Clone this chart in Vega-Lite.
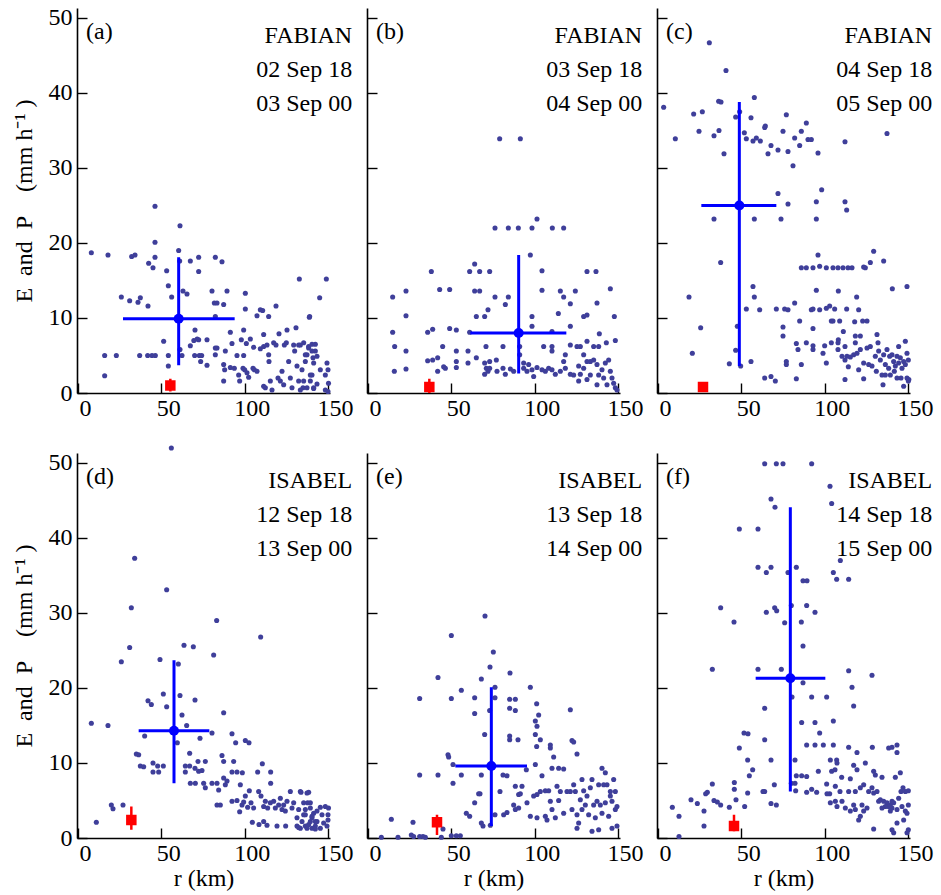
{
"$schema":"https://vega.github.io/schema/vega-lite/v6.json",
"padding":{"left":12,"top":5,"right":5,"bottom":5},
"background":"white",
"bounds":"flush",
"columns":3,
"spacing":{"row":60,"column":37},
"datasets":{
"stats":[
{"p":"a","mr":60.4,"me":9.9,"mx1":27,"mx2":94,"my1":3.7,"my2":18.1,"qr":55.4,"qe":1.0,"qy1":0.2,"qy2":1.9,"tag":"(a)","storm":"FABIAN","d1":"02 Sep 18","d2":"03 Sep 00"},
{"p":"b","mr":90.4,"me":8.0,"mx1":61.4,"mx2":119,"my1":2.6,"my2":18.4,"qr":36.8,"qe":0.8,"qy1":0,"qy2":1.9,"tag":"(b)","storm":"FABIAN","d1":"03 Sep 18","d2":"04 Sep 00"},
{"p":"c","mr":48.8,"me":25.0,"mx1":26,"mx2":71,"my1":3.6,"my2":38.8,"qr":27,"qe":0.8,"qy1":0.5,"qy2":1.1,"tag":"(c)","storm":"FABIAN","d1":"04 Sep 18","d2":"05 Sep 00"},
{"p":"d","mr":57.6,"me":14.3,"mx1":36.4,"mx2":78.8,"my1":7.3,"my2":23.7,"qr":32,"qe":2.4,"qy1":1.1,"qy2":4.2,"tag":"(d)","storm":"ISABEL","d1":"12 Sep 18","d2":"13 Sep 00"},
{"p":"e","mr":74,"me":9.6,"mx1":52.4,"mx2":95.4,"my1":1.6,"my2":20.1,"qr":41.4,"qe":2.1,"qy1":0.4,"qy2":3.1,"tag":"(e)","storm":"ISABEL","d1":"13 Sep 18","d2":"14 Sep 00"},
{"p":"f","mr":79.4,"me":21.3,"mx1":58.6,"mx2":100.4,"my1":6.2,"my2":44.1,"qr":45.6,"qe":1.6,"qy1":0.9,"qy2":3.1,"tag":"(f)","storm":"ISABEL","d1":"14 Sep 18","d2":"15 Sep 00"}
],
"pts":[
{"p":"a","r":8,"e":18.7},{"p":"a","r":18,"e":18.4},{"p":"a","r":32.2,"e":18.2},{"p":"a","r":34.2,"e":18.4},{"p":"a","r":46.2,"e":24.9},{"p":"a","r":46.2,"e":20.1},{"p":"a","r":46.2,"e":18.1},{"p":"a","r":42.4,"e":17.3},{"p":"a","r":45,"e":16.7},{"p":"a","r":61.2,"e":22.3},{"p":"a","r":60.4,"e":19.0},{"p":"a","r":61,"e":17.6},{"p":"a","r":67.4,"e":17.6},{"p":"a","r":72.4,"e":18.1},{"p":"a","r":72.4,"e":16.2},{"p":"a","r":53.2,"e":16.3},{"p":"a","r":54.2,"e":14.3},{"p":"a","r":56.2,"e":12.8},{"p":"a","r":63,"e":13.6},{"p":"a","r":65.4,"e":13.2},{"p":"a","r":82.4,"e":18.1},{"p":"a","r":86.4,"e":17.5},{"p":"a","r":26,"e":12.8},{"p":"a","r":31,"e":12.3},{"p":"a","r":36,"e":12.1},{"p":"a","r":37.4,"e":12.7},{"p":"a","r":42,"e":11.6},{"p":"a","r":80.4,"e":13.6},{"p":"a","r":89.4,"e":13.6},{"p":"a","r":81.8,"e":12},{"p":"a","r":83.4,"e":12},{"p":"a","r":87.4,"e":11.8},{"p":"a","r":82.4,"e":10.2},{"p":"a","r":100.4,"e":13.3},{"p":"a","r":100.4,"e":11.2},{"p":"a","r":109.4,"e":11.1},{"p":"a","r":110.8,"e":11.0},{"p":"a","r":118.8,"e":11.6},{"p":"a","r":107.4,"e":10.3},{"p":"a","r":114.4,"e":10.2},{"p":"a","r":132.8,"e":15.2},{"p":"a","r":138.8,"e":10.1},{"p":"a","r":16,"e":5.0},{"p":"a","r":23,"e":5.0},{"p":"a","r":37,"e":5.0},{"p":"a","r":41.8,"e":5.0},{"p":"a","r":44.4,"e":5.0},{"p":"a","r":46.4,"e":5.0},{"p":"a","r":16,"e":2.3},{"p":"a","r":51.4,"e":6.9},{"p":"a","r":54.2,"e":5.0},{"p":"a","r":54.2,"e":3.6},{"p":"a","r":61.2,"e":5.8},{"p":"a","r":62.4,"e":5.0},{"p":"a","r":67.4,"e":6.3},{"p":"a","r":70.2,"e":8.4},{"p":"a","r":69.5,"e":7.0},{"p":"a","r":71.5,"e":7.2},{"p":"a","r":72.4,"e":7.1},{"p":"a","r":70,"e":5.0},{"p":"a","r":72.8,"e":5.0},{"p":"a","r":74.2,"e":5.0},{"p":"a","r":73.6,"e":4.2},{"p":"a","r":77.4,"e":7.1},{"p":"a","r":77.4,"e":3.7},{"p":"a","r":82.4,"e":6.0},{"p":"a","r":83.4,"e":6.0},{"p":"a","r":82.4,"e":5.1},{"p":"a","r":87.4,"e":3.8},{"p":"a","r":88,"e":3.1},{"p":"a","r":87.4,"e":1.6},{"p":"a","r":88.4,"e":5.6},{"p":"a","r":91.4,"e":8.1},{"p":"a","r":92.4,"e":6.6},{"p":"a","r":91.4,"e":3.4},{"p":"a","r":93.8,"e":3.3},{"p":"a","r":95.4,"e":5.0},{"p":"a","r":96.4,"e":2.4},{"p":"a","r":97,"e":1.6},{"p":"a","r":98,"e":7.1},{"p":"a","r":99,"e":3.3},{"p":"a","r":100,"e":3.1},{"p":"a","r":99.4,"e":5.0},{"p":"a","r":99.4,"e":8.4},{"p":"a","r":101,"e":6.6},{"p":"a","r":101.4,"e":2.7},{"p":"a","r":102.4,"e":2.1},{"p":"a","r":103.4,"e":7.2},{"p":"a","r":105,"e":3.3},{"p":"a","r":105.8,"e":3.1},{"p":"a","r":105.4,"e":6.1},{"p":"a","r":107.4,"e":2.9},{"p":"a","r":109.4,"e":5.9},{"p":"a","r":111.4,"e":6.2},{"p":"a","r":113.4,"e":6.4},{"p":"a","r":111.4,"e":7.8},{"p":"a","r":111.4,"e":0.9},{"p":"a","r":112.4,"e":0.7},{"p":"a","r":114.4,"e":5.1},{"p":"a","r":115.4,"e":1.6},{"p":"a","r":116.4,"e":0.4},{"p":"a","r":114.6,"e":4.2},{"p":"a","r":117.4,"e":6.7},{"p":"a","r":118.8,"e":6.4},{"p":"a","r":120,"e":2.0},{"p":"a","r":121.4,"e":1.6},{"p":"a","r":120.6,"e":7.9},{"p":"a","r":122.4,"e":2.9},{"p":"a","r":123.4,"e":1.1},{"p":"a","r":123.8,"e":6.4},{"p":"a","r":125,"e":6.7},{"p":"a","r":125.4,"e":8.4},{"p":"a","r":126.4,"e":4.2},{"p":"a","r":127.4,"e":2.0},{"p":"a","r":128.4,"e":0.7},{"p":"a","r":129.4,"e":6.4},{"p":"a","r":130,"e":5.6},{"p":"a","r":130.8,"e":8.7},{"p":"a","r":131.4,"e":3.6},{"p":"a","r":132.4,"e":1.6},{"p":"a","r":133.4,"e":6.4},{"p":"a","r":134.4,"e":3.1},{"p":"a","r":135,"e":0.7},{"p":"a","r":136.4,"e":4.2},{"p":"a","r":137.4,"e":5.1},{"p":"a","r":138.4,"e":6.0},{"p":"a","r":140.4,"e":6.5},{"p":"a","r":139.4,"e":1.6},{"p":"a","r":140.4,"e":2.4},{"p":"a","r":141.4,"e":0.7},{"p":"a","r":141,"e":4.7},{"p":"a","r":142.4,"e":5.6},{"p":"a","r":149,"e":15.2},{"p":"a","r":145,"e":12.7},{"p":"a","r":139,"e":10.2},{"p":"a","r":132.4,"e":6.4},{"p":"a","r":135.4,"e":6.7},{"p":"a","r":138.4,"e":6.2},{"p":"a","r":142.4,"e":6.5},{"p":"a","r":140.4,"e":5.6},{"p":"a","r":136.4,"e":5.1},{"p":"a","r":143.4,"e":4.9},{"p":"a","r":141.4,"e":4.0},{"p":"a","r":149.4,"e":4.0},{"p":"a","r":145.4,"e":3.1},{"p":"a","r":150,"e":3.1},{"p":"a","r":139.4,"e":2.4},{"p":"a","r":148.4,"e":2.4},{"p":"a","r":135.4,"e":1.6},{"p":"a","r":143.4,"e":1.2},{"p":"a","r":137.4,"e":0.7},{"p":"a","r":141.4,"e":0.6},{"p":"a","r":148.4,"e":0.4},{"p":"a","r":150.3,"e":1.3},{"p":"a","r":150,"e":0.2},{"p":"a","r":133.4,"e":0.4},
{"p":"b","r":79,"e":33.9},{"p":"b","r":91.4,"e":33.9},{"p":"b","r":101.4,"e":23.2},{"p":"b","r":76.2,"e":22},{"p":"b","r":84.2,"e":22},{"p":"b","r":90.2,"e":22},{"p":"b","r":98.4,"e":22},{"p":"b","r":110.6,"e":22},{"p":"b","r":117.4,"e":22},{"p":"b","r":97.4,"e":18.4},{"p":"b","r":64,"e":17.2},{"p":"b","r":38,"e":16.2},{"p":"b","r":61,"e":16.2},{"p":"b","r":67,"e":16.2},{"p":"b","r":73,"e":16.2},{"p":"b","r":104.4,"e":16.3},{"p":"b","r":131.4,"e":16.2},{"p":"b","r":136.8,"e":16.2},{"p":"b","r":14.8,"e":12.8},{"p":"b","r":22.8,"e":13.6},{"p":"b","r":43,"e":13.8},{"p":"b","r":49,"e":13.8},{"p":"b","r":64,"e":13.6},{"p":"b","r":67,"e":13.6},{"p":"b","r":76.2,"e":12.8},{"p":"b","r":84.2,"e":12.8},{"p":"b","r":82.4,"e":11.8},{"p":"b","r":72,"e":11.1},{"p":"b","r":104.4,"e":13.7},{"p":"b","r":115.4,"e":13.6},{"p":"b","r":117.4,"e":12.8},{"p":"b","r":124.4,"e":13.6},{"p":"b","r":121.4,"e":11.9},{"p":"b","r":145.4,"e":13.9},{"p":"b","r":137.4,"e":12.0},{"p":"b","r":22.8,"e":10.3},{"p":"b","r":65,"e":10.2},{"p":"b","r":70,"e":10.2},{"p":"b","r":98.4,"e":10.2},{"p":"b","r":114.2,"e":10.6},{"p":"b","r":129.4,"e":10.2},{"p":"b","r":131.4,"e":10.4},{"p":"b","r":147.8,"e":10.2},{"p":"b","r":14.8,"e":8.1},{"p":"b","r":35.8,"e":8.1},{"p":"b","r":38.8,"e":8.5},{"p":"b","r":49,"e":8.6},{"p":"b","r":53,"e":8.4},{"p":"b","r":61,"e":8.1},{"p":"b","r":98.4,"e":8.9},{"p":"b","r":110.4,"e":8.2},{"p":"b","r":121.4,"e":8.9},{"p":"b","r":138.8,"e":7.9},{"p":"b","r":16,"e":6.2},{"p":"b","r":22.8,"e":5.6},{"p":"b","r":44.8,"e":6.2},{"p":"b","r":53,"e":5.6},{"p":"b","r":60,"e":5.6},{"p":"b","r":65,"e":4.7},{"p":"b","r":70.8,"e":6.2},{"p":"b","r":81,"e":6.2},{"p":"b","r":91,"e":6.2},{"p":"b","r":91,"e":5.1},{"p":"b","r":105.4,"e":6.2},{"p":"b","r":110.4,"e":6.2},{"p":"b","r":110.4,"e":5.6},{"p":"b","r":121.4,"e":6.4},{"p":"b","r":125.4,"e":6.2},{"p":"b","r":127.4,"e":6.2},{"p":"b","r":131.4,"e":6.9},{"p":"b","r":135.4,"e":6.2},{"p":"b","r":138.4,"e":6.2},{"p":"b","r":143,"e":6.7},{"p":"b","r":148.4,"e":7.0},{"p":"b","r":15.8,"e":2.9},{"p":"b","r":22.8,"e":3.2},{"p":"b","r":35.8,"e":4.3},{"p":"b","r":38.8,"e":4.4},{"p":"b","r":41.8,"e":4.7},{"p":"b","r":41.8,"e":2.9},{"p":"b","r":45.4,"e":3.5},{"p":"b","r":46.4,"e":3.3},{"p":"b","r":53,"e":4.2},{"p":"b","r":53,"e":3.4},{"p":"b","r":60,"e":4.0},{"p":"b","r":70,"e":4.0},{"p":"b","r":73,"e":4.2},{"p":"b","r":71,"e":3.3},{"p":"b","r":72,"e":2.9},{"p":"b","r":70,"e":2.5},{"p":"b","r":77,"e":4.4},{"p":"b","r":73,"e":3.3},{"p":"b","r":77.4,"e":2.9},{"p":"b","r":81,"e":3.3},{"p":"b","r":85.4,"e":3.2},{"p":"b","r":82.4,"e":2.5},{"p":"b","r":87.4,"e":2.9},{"p":"b","r":93.4,"e":4.0},{"p":"b","r":96.4,"e":3.8},{"p":"b","r":93.4,"e":3.3},{"p":"b","r":95.4,"e":2.9},{"p":"b","r":98.4,"e":3.1},{"p":"b","r":99.4,"e":2.2},{"p":"b","r":101.4,"e":3.4},{"p":"b","r":104.4,"e":3.1},{"p":"b","r":106.4,"e":2.9},{"p":"b","r":108.4,"e":3.3},{"p":"b","r":110.4,"e":3.1},{"p":"b","r":112.4,"e":2.5},{"p":"b","r":115.4,"e":2.9},{"p":"b","r":117.4,"e":4.2},{"p":"b","r":118.4,"e":3.3},{"p":"b","r":118.4,"e":5.1},{"p":"b","r":121.4,"e":2.5},{"p":"b","r":123.4,"e":2.4},{"p":"b","r":126.4,"e":1.6},{"p":"b","r":127.4,"e":2.5},{"p":"b","r":129.4,"e":5.1},{"p":"b","r":131.4,"e":4.2},{"p":"b","r":133.4,"e":4.2},{"p":"b","r":135.4,"e":4.4},{"p":"b","r":137.4,"e":3.8},{"p":"b","r":138.4,"e":2.4},{"p":"b","r":140.4,"e":3.1},{"p":"b","r":142.4,"e":4.0},{"p":"b","r":144.4,"e":4.4},{"p":"b","r":145.4,"e":2.9},{"p":"b","r":146.4,"e":2.0},{"p":"b","r":147.4,"e":1.3},{"p":"b","r":148.4,"e":0.7},{"p":"b","r":149.4,"e":0.4},{"p":"b","r":137.4,"e":1.1},{"p":"b","r":131.4,"e":1.8},{"p":"b","r":126.4,"e":3.6},{"p":"b","r":129.4,"e":3.3},{"p":"b","r":133.4,"e":2.4},{"p":"b","r":141.4,"e":2.0},{"p":"b","r":143.4,"e":1.1},
{"p":"c","r":3.4,"e":38.1},{"p":"c","r":10.4,"e":33.9},{"p":"c","r":30.8,"e":46.7},{"p":"c","r":40.8,"e":43.0},{"p":"c","r":21.4,"e":37.2},{"p":"c","r":26.6,"e":37.5},{"p":"c","r":24.6,"e":34.9},{"p":"c","r":36.4,"e":38.9},{"p":"c","r":37.8,"e":38.8},{"p":"c","r":33.6,"e":34.3},{"p":"c","r":36.6,"e":35.0},{"p":"c","r":39.6,"e":31.9},{"p":"c","r":46.6,"e":36.8},{"p":"c","r":49,"e":37.5},{"p":"c","r":57.8,"e":39.4},{"p":"c","r":55.8,"e":36.7},{"p":"c","r":51.8,"e":34.7},{"p":"c","r":53,"e":33.9},{"p":"c","r":57,"e":33.6},{"p":"c","r":59,"e":34.0},{"p":"c","r":61.4,"e":33.6},{"p":"c","r":64,"e":35.4},{"p":"c","r":64.4,"e":35.6},{"p":"c","r":66,"e":31.9},{"p":"c","r":67.8,"e":33.0},{"p":"c","r":72,"e":32.4},{"p":"c","r":75,"e":34.9},{"p":"c","r":77,"e":37.1},{"p":"c","r":78,"e":32.2},{"p":"c","r":81,"e":30.3},{"p":"c","r":82,"e":34.0},{"p":"c","r":85,"e":33.0},{"p":"c","r":86,"e":34.9},{"p":"c","r":89,"e":36.0},{"p":"c","r":90,"e":33.8},{"p":"c","r":92,"e":33.8},{"p":"c","r":96,"e":32.0},{"p":"c","r":112.2,"e":33.5},{"p":"c","r":137.4,"e":34.6},{"p":"c","r":72,"e":26.6},{"p":"c","r":78,"e":25.2},{"p":"c","r":95,"e":25.5},{"p":"c","r":98.2,"e":27.1},{"p":"c","r":112.2,"e":25.5},{"p":"c","r":113.2,"e":24.4},{"p":"c","r":33.6,"e":23.2},{"p":"c","r":57.8,"e":23.2},{"p":"c","r":73.8,"e":23.2},{"p":"c","r":95,"e":23.2},{"p":"c","r":37.6,"e":17.4},{"p":"c","r":96,"e":18.4},{"p":"c","r":129.4,"e":18.9},{"p":"c","r":135.4,"e":17.6},{"p":"c","r":86,"e":16.7},{"p":"c","r":89,"e":16.7},{"p":"c","r":93,"e":16.7},{"p":"c","r":97,"e":16.9},{"p":"c","r":101,"e":16.7},{"p":"c","r":105,"e":16.7},{"p":"c","r":108,"e":16.7},{"p":"c","r":111,"e":16.7},{"p":"c","r":114,"e":16.7},{"p":"c","r":116.4,"e":16.7},{"p":"c","r":123.4,"e":16.8},{"p":"c","r":124.4,"e":16.7},{"p":"c","r":127.4,"e":17.4},{"p":"c","r":57,"e":14.2},{"p":"c","r":140.6,"e":13.9},{"p":"c","r":149.4,"e":14.2},{"p":"c","r":18.6,"e":12.8},{"p":"c","r":57.8,"e":12.8},{"p":"c","r":95,"e":13.7},{"p":"c","r":108.2,"e":13.6},{"p":"c","r":119.2,"e":12.8},{"p":"c","r":53,"e":11.2},{"p":"c","r":61,"e":11.1},{"p":"c","r":71,"e":11.2},{"p":"c","r":76,"e":11.2},{"p":"c","r":78,"e":11.1},{"p":"c","r":82,"e":12.0},{"p":"c","r":92,"e":11.1},{"p":"c","r":93,"e":11.2},{"p":"c","r":97,"e":11.1},{"p":"c","r":101,"e":11.3},{"p":"c","r":103,"e":11.6},{"p":"c","r":106,"e":11.2},{"p":"c","r":113.2,"e":11.2},{"p":"c","r":120.4,"e":11.1},{"p":"c","r":25.6,"e":8.7},{"p":"c","r":47.6,"e":8.9},{"p":"c","r":75,"e":8.8},{"p":"c","r":85,"e":9.6},{"p":"c","r":93,"e":8.6},{"p":"c","r":104,"e":9.6},{"p":"c","r":105,"e":9.6},{"p":"c","r":109,"e":9.6},{"p":"c","r":111.2,"e":8.2},{"p":"c","r":118,"e":9.5},{"p":"c","r":122.8,"e":9.6},{"p":"c","r":125.4,"e":9.6},{"p":"c","r":118.4,"e":7.6},{"p":"c","r":121.4,"e":7.6},{"p":"c","r":75,"e":7.6},{"p":"c","r":131.4,"e":7.8},{"p":"c","r":20.6,"e":5.3},{"p":"c","r":46.6,"e":5.7},{"p":"c","r":42.8,"e":3.9},{"p":"c","r":49.6,"e":3.6},{"p":"c","r":55.8,"e":4.2},{"p":"c","r":64,"e":2.0},{"p":"c","r":67.8,"e":2.2},{"p":"c","r":70.4,"e":1.6},{"p":"c","r":77,"e":4.2},{"p":"c","r":77,"e":3.8},{"p":"c","r":83,"e":6.6},{"p":"c","r":84,"e":5.8},{"p":"c","r":86,"e":3.8},{"p":"c","r":83,"e":1.9},{"p":"c","r":89,"e":6.7},{"p":"c","r":93,"e":6.3},{"p":"c","r":93,"e":5.8},{"p":"c","r":100,"e":6.3},{"p":"c","r":99,"e":5.3},{"p":"c","r":101,"e":4.0},{"p":"c","r":104,"e":6.7},{"p":"c","r":108.2,"e":7.1},{"p":"c","r":108,"e":6.7},{"p":"c","r":108,"e":5.8},{"p":"c","r":112.2,"e":1.8},{"p":"c","r":114.2,"e":3.5},{"p":"c","r":120.4,"e":3.1},{"p":"c","r":123.4,"e":1.9},{"p":"c","r":112.2,"e":6.2},{"p":"c","r":110.4,"e":4.9},{"p":"c","r":112.2,"e":4.4},{"p":"c","r":113.4,"e":4.9},{"p":"c","r":115.4,"e":4.8},{"p":"c","r":117.4,"e":5.1},{"p":"c","r":119.4,"e":5.3},{"p":"c","r":118.4,"e":6.7},{"p":"c","r":121.4,"e":5.8},{"p":"c","r":123.4,"e":4.0},{"p":"c","r":125.4,"e":6.0},{"p":"c","r":127.4,"e":6.2},{"p":"c","r":128.4,"e":3.6},{"p":"c","r":130.4,"e":4.9},{"p":"c","r":132,"e":6.7},{"p":"c","r":132.4,"e":5.6},{"p":"c","r":133.4,"e":4.4},{"p":"c","r":134.4,"e":2.4},{"p":"c","r":135,"e":1.1},{"p":"c","r":135.4,"e":5.1},{"p":"c","r":136.4,"e":3.8},{"p":"c","r":137.4,"e":5.8},{"p":"c","r":138.4,"e":3.3},{"p":"c","r":139.4,"e":2.4},{"p":"c","r":140.4,"e":5.1},{"p":"c","r":141.4,"e":4.2},{"p":"c","r":142.4,"e":3.6},{"p":"c","r":143.4,"e":4.9},{"p":"c","r":144.4,"e":4.0},{"p":"c","r":145.4,"e":4.7},{"p":"c","r":146.4,"e":3.3},{"p":"c","r":147.4,"e":4.2},{"p":"c","r":148.4,"e":3.8},{"p":"c","r":148.4,"e":6.9},{"p":"c","r":149.4,"e":5.3},{"p":"c","r":149.4,"e":2.0},{"p":"c","r":150.2,"e":1.6},{"p":"c","r":147.4,"e":0.9},{"p":"c","r":145.8,"e":2.0},{"p":"c","r":143.4,"e":2.0},{"p":"c","r":150.2,"e":4.4},{"p":"c","r":144.4,"e":6.2},{"p":"c","r":141.8,"e":2.9},{"p":"c","r":139,"e":4.9},{"p":"c","r":131,"e":2.9},{"p":"c","r":126.4,"e":3.8},{"p":"c","r":136.4,"e":2.4},{"p":"c","r":150.5,"e":1.8},
{"p":"d","r":56,"e":52.0},{"p":"d","r":34,"e":37.3},{"p":"d","r":53.2,"e":33.1},{"p":"d","r":32,"e":30.7},{"p":"d","r":83.2,"e":29.0},{"p":"d","r":109.6,"e":26.8},{"p":"d","r":31,"e":25.4},{"p":"d","r":63.6,"e":25.7},{"p":"d","r":69.2,"e":25.5},{"p":"d","r":26,"e":23.5},{"p":"d","r":49.2,"e":23.8},{"p":"d","r":60.2,"e":23.2},{"p":"d","r":81.4,"e":24.4},{"p":"d","r":51.2,"e":19.2},{"p":"d","r":61.2,"e":19.0},{"p":"d","r":70.2,"e":18.4},{"p":"d","r":42,"e":18.3},{"p":"d","r":44,"e":17.8},{"p":"d","r":53.2,"e":17.5},{"p":"d","r":62.4,"e":16.4},{"p":"d","r":87.4,"e":16.7},{"p":"d","r":65.2,"e":15.0},{"p":"d","r":8,"e":15.3},{"p":"d","r":18,"e":15.0},{"p":"d","r":40,"e":13.6},{"p":"d","r":73.2,"e":13.3},{"p":"d","r":80.4,"e":14.0},{"p":"d","r":92.4,"e":13.9},{"p":"d","r":94.6,"e":12.7},{"p":"d","r":100.4,"e":13.0},{"p":"d","r":102.6,"e":12.7},{"p":"d","r":59.6,"e":12.7},{"p":"d","r":35,"e":11.2},{"p":"d","r":36.4,"e":11.1},{"p":"d","r":67,"e":11.3},{"p":"d","r":86.4,"e":11.0},{"p":"d","r":110.6,"e":9.9},{"p":"d","r":87.4,"e":10.2},{"p":"d","r":37.4,"e":9.6},{"p":"d","r":39.4,"e":9.5},{"p":"d","r":45,"e":10.0},{"p":"d","r":47.8,"e":9.6},{"p":"d","r":51.2,"e":9.6},{"p":"d","r":64.4,"e":9.6},{"p":"d","r":67,"e":9.6},{"p":"d","r":72,"e":10.2},{"p":"d","r":76.4,"e":10.2},{"p":"d","r":70.2,"e":9.3},{"p":"d","r":72.4,"e":8.9},{"p":"d","r":74.4,"e":9.0},{"p":"d","r":45,"e":8.8},{"p":"d","r":48.4,"e":8.8},{"p":"d","r":64.4,"e":8.8},{"p":"d","r":93.4,"e":10.2},{"p":"d","r":92.4,"e":8.8},{"p":"d","r":95.4,"e":8.8},{"p":"d","r":98.6,"e":8.7},{"p":"d","r":107.8,"e":8.8},{"p":"d","r":115.6,"e":8.8},{"p":"d","r":115.6,"e":7.3},{"p":"d","r":67.4,"e":7.3},{"p":"d","r":70.4,"e":7.3},{"p":"d","r":75.4,"e":7.3},{"p":"d","r":80.4,"e":7.3},{"p":"d","r":83.4,"e":7.3},{"p":"d","r":76.4,"e":6.7},{"p":"d","r":84.4,"e":6.4},{"p":"d","r":87.4,"e":8.0},{"p":"d","r":88.4,"e":7.1},{"p":"d","r":89.4,"e":7.6},{"p":"d","r":97.4,"e":7.1},{"p":"d","r":83.4,"e":4.4},{"p":"d","r":85.4,"e":4.4},{"p":"d","r":92.4,"e":4.9},{"p":"d","r":97,"e":3.5},{"p":"d","r":11,"e":2.1},{"p":"d","r":20,"e":4.4},{"p":"d","r":21,"e":3.9},{"p":"d","r":27,"e":4.4},{"p":"d","r":95.4,"e":5.0},{"p":"d","r":98.4,"e":4.4},{"p":"d","r":99.4,"e":4.8},{"p":"d","r":100.4,"e":5.6},{"p":"d","r":101.8,"e":4.1},{"p":"d","r":103.8,"e":4.7},{"p":"d","r":105.4,"e":4.0},{"p":"d","r":102.8,"e":6.3},{"p":"d","r":104.6,"e":2.1},{"p":"d","r":108.6,"e":1.8},{"p":"d","r":111.4,"e":2.2},{"p":"d","r":113.4,"e":1.7},{"p":"d","r":119.4,"e":1.6},{"p":"d","r":124.6,"e":1.6},{"p":"d","r":108.4,"e":6.2},{"p":"d","r":109.8,"e":5.6},{"p":"d","r":111.4,"e":4.2},{"p":"d","r":112.4,"e":4.9},{"p":"d","r":113.8,"e":4.0},{"p":"d","r":115.4,"e":4.7},{"p":"d","r":117.4,"e":4.9},{"p":"d","r":118.4,"e":4.0},{"p":"d","r":120.4,"e":4.4},{"p":"d","r":121.4,"e":5.3},{"p":"d","r":122.4,"e":3.8},{"p":"d","r":123.4,"e":4.4},{"p":"d","r":124.4,"e":3.6},{"p":"d","r":125.4,"e":4.9},{"p":"d","r":127.4,"e":6.2},{"p":"d","r":128.4,"e":4.0},{"p":"d","r":129.4,"e":4.7},{"p":"d","r":131.4,"e":2.7},{"p":"d","r":132.4,"e":3.8},{"p":"d","r":133.8,"e":6.1},{"p":"d","r":135.4,"e":3.1},{"p":"d","r":136.4,"e":3.8},{"p":"d","r":137.4,"e":6.0},{"p":"d","r":137.8,"e":4.7},{"p":"d","r":139.4,"e":4.0},{"p":"d","r":140.4,"e":2.7},{"p":"d","r":141.4,"e":3.3},{"p":"d","r":142.4,"e":2.2},{"p":"d","r":131.4,"e":1.6},{"p":"d","r":133.4,"e":1.3},{"p":"d","r":136.4,"e":1.6},{"p":"d","r":138.4,"e":1.8},{"p":"d","r":140.4,"e":1.3},{"p":"d","r":142.4,"e":1.6},{"p":"d","r":133.4,"e":6.2},{"p":"d","r":138.4,"e":6.1},{"p":"d","r":135.4,"e":4.7},{"p":"d","r":139.4,"e":4.7},{"p":"d","r":145.4,"e":4.1},{"p":"d","r":148.4,"e":4.2},{"p":"d","r":150.3,"e":4.0},{"p":"d","r":143.4,"e":3.6},{"p":"d","r":136.4,"e":3.1},{"p":"d","r":140.4,"e":2.9},{"p":"d","r":146.4,"e":3.1},{"p":"d","r":150,"e":3.1},{"p":"d","r":134.4,"e":2.2},{"p":"d","r":139.4,"e":2.2},{"p":"d","r":143.4,"e":2.2},{"p":"d","r":147.4,"e":2.0},{"p":"d","r":150,"e":2.4},{"p":"d","r":132.4,"e":1.4},{"p":"d","r":137.4,"e":1.3},{"p":"d","r":142.4,"e":1.2},{"p":"d","r":145.4,"e":1.3},{"p":"d","r":149.4,"e":1.6},
{"p":"e","r":70.2,"e":29.6},{"p":"e","r":50,"e":27.0},{"p":"e","r":75.2,"e":24.8},{"p":"e","r":73.2,"e":22.8},{"p":"e","r":85.2,"e":22.0},{"p":"e","r":42,"e":21.4},{"p":"e","r":68,"e":21.2},{"p":"e","r":76.2,"e":20.1},{"p":"e","r":97.4,"e":20.1},{"p":"e","r":56,"e":19.7},{"p":"e","r":31,"e":18.6},{"p":"e","r":50,"e":18.6},{"p":"e","r":64,"e":18.7},{"p":"e","r":76.2,"e":18.7},{"p":"e","r":85,"e":18.5},{"p":"e","r":88.4,"e":18.5},{"p":"e","r":101.2,"e":17.9},{"p":"e","r":85,"e":17.3},{"p":"e","r":88.4,"e":17.0},{"p":"e","r":73,"e":17.0},{"p":"e","r":121.4,"e":17.1},{"p":"e","r":64,"e":16.6},{"p":"e","r":102.4,"e":16.4},{"p":"e","r":100.4,"e":15.6},{"p":"e","r":101.4,"e":14.9},{"p":"e","r":70,"e":13.8},{"p":"e","r":100.4,"e":13.8},{"p":"e","r":85,"e":13.6},{"p":"e","r":85,"e":13.1},{"p":"e","r":90,"e":13.1},{"p":"e","r":103.4,"e":13.1},{"p":"e","r":101.2,"e":12.2},{"p":"e","r":109.4,"e":12.4},{"p":"e","r":109.4,"e":12.0},{"p":"e","r":122.4,"e":13.0},{"p":"e","r":123.4,"e":12.8},{"p":"e","r":125.4,"e":11.2},{"p":"e","r":111.4,"e":10.8},{"p":"e","r":48,"e":11.1},{"p":"e","r":48.4,"e":10.8},{"p":"e","r":51,"e":9.8},{"p":"e","r":31,"e":8.4},{"p":"e","r":42,"e":8.4},{"p":"e","r":56,"e":8.4},{"p":"e","r":68,"e":8.4},{"p":"e","r":81,"e":8.4},{"p":"e","r":83.4,"e":8.3},{"p":"e","r":95,"e":9.1},{"p":"e","r":100.4,"e":9.8},{"p":"e","r":104.4,"e":8.3},{"p":"e","r":110.4,"e":9.3},{"p":"e","r":114.4,"e":9.3},{"p":"e","r":117.4,"e":9.2},{"p":"e","r":140.4,"e":9.3},{"p":"e","r":142.4,"e":8.7},{"p":"e","r":51,"e":7.3},{"p":"e","r":79.2,"e":6.2},{"p":"e","r":66.4,"e":5.9},{"p":"e","r":67.2,"e":5.9},{"p":"e","r":64,"e":4.7},{"p":"e","r":59,"e":3.3},{"p":"e","r":61,"e":2.9},{"p":"e","r":68,"e":2.0},{"p":"e","r":69,"e":1.6},{"p":"e","r":76.2,"e":3.1},{"p":"e","r":81.4,"e":3.1},{"p":"e","r":83.4,"e":3.4},{"p":"e","r":87.4,"e":4.4},{"p":"e","r":88.4,"e":3.8},{"p":"e","r":90.4,"e":4.0},{"p":"e","r":88.4,"e":6.9},{"p":"e","r":92.4,"e":6.9},{"p":"e","r":90.4,"e":5.8},{"p":"e","r":91.4,"e":5.9},{"p":"e","r":95.4,"e":4.7},{"p":"e","r":97.4,"e":2.9},{"p":"e","r":99.4,"e":5.6},{"p":"e","r":101.4,"e":5.8},{"p":"e","r":101.4,"e":2.7},{"p":"e","r":103.4,"e":6.2},{"p":"e","r":106.4,"e":2.9},{"p":"e","r":106.4,"e":6.3},{"p":"e","r":107.4,"e":2.4},{"p":"e","r":108.4,"e":6.3},{"p":"e","r":109.4,"e":4.9},{"p":"e","r":110.4,"e":3.8},{"p":"e","r":112.4,"e":2.7},{"p":"e","r":113.4,"e":6.9},{"p":"e","r":114.4,"e":5.0},{"p":"e","r":115.4,"e":6.2},{"p":"e","r":117.4,"e":3.3},{"p":"e","r":119.4,"e":6.2},{"p":"e","r":121.4,"e":6.2},{"p":"e","r":122.4,"e":3.8},{"p":"e","r":123.4,"e":7.1},{"p":"e","r":124.4,"e":6.2},{"p":"e","r":125.4,"e":3.1},{"p":"e","r":125.4,"e":1.3},{"p":"e","r":126.4,"e":2.0},{"p":"e","r":127.4,"e":5.1},{"p":"e","r":128.4,"e":7.8},{"p":"e","r":128.4,"e":3.8},{"p":"e","r":129.4,"e":6.3},{"p":"e","r":130.4,"e":4.4},{"p":"e","r":131.4,"e":5.6},{"p":"e","r":132.4,"e":3.1},{"p":"e","r":133.4,"e":6.7},{"p":"e","r":134.4,"e":7.8},{"p":"e","r":134.4,"e":0.9},{"p":"e","r":135.4,"e":4.4},{"p":"e","r":136.4,"e":2.7},{"p":"e","r":137.4,"e":4.9},{"p":"e","r":138.4,"e":7.1},{"p":"e","r":138.4,"e":1.1},{"p":"e","r":139.4,"e":4.4},{"p":"e","r":140.4,"e":3.3},{"p":"e","r":141.4,"e":7.1},{"p":"e","r":142.4,"e":4.7},{"p":"e","r":143.4,"e":7.1},{"p":"e","r":144.4,"e":2.9},{"p":"e","r":145.4,"e":6.2},{"p":"e","r":145.4,"e":5.6},{"p":"e","r":146.4,"e":4.9},{"p":"e","r":146.4,"e":1.3},{"p":"e","r":147.4,"e":7.8},{"p":"e","r":148.4,"e":3.8},{"p":"e","r":148.4,"e":6.2},{"p":"e","r":149.4,"e":1.6},{"p":"e","r":149.4,"e":4.2},{"p":"e","r":14,"e":2.5},{"p":"e","r":27,"e":2.1},{"p":"e","r":8,"e":0.1},{"p":"e","r":18,"e":0.1},{"p":"e","r":26,"e":0.4},{"p":"e","r":27.4,"e":0.2},{"p":"e","r":31,"e":0.2},{"p":"e","r":33,"e":0.2},{"p":"e","r":34.4,"e":0.1},{"p":"e","r":45,"e":1.2},{"p":"e","r":44,"e":0.1},{"p":"e","r":50,"e":0.3},{"p":"e","r":53,"e":0.3},{"p":"e","r":55.4,"e":0.3},{"p":"e","r":73.4,"e":1.7},
{"p":"f","r":64,"e":49.9},{"p":"f","r":71,"e":49.9},{"p":"f","r":75,"e":49.9},{"p":"f","r":92.2,"e":49.9},{"p":"f","r":103.2,"e":46.9},{"p":"f","r":67.8,"e":45.2},{"p":"f","r":70.2,"e":44.1},{"p":"f","r":104.2,"e":44.6},{"p":"f","r":48.8,"e":41.2},{"p":"f","r":60,"e":41.2},{"p":"f","r":109.4,"e":37.0},{"p":"f","r":60,"e":36.1},{"p":"f","r":65,"e":35.4},{"p":"f","r":67.8,"e":36.1},{"p":"f","r":78,"e":35.4},{"p":"f","r":83,"e":36.1},{"p":"f","r":87,"e":34.3},{"p":"f","r":89.4,"e":34.3},{"p":"f","r":105.2,"e":35.4},{"p":"f","r":107.2,"e":34.5},{"p":"f","r":114.4,"e":34.5},{"p":"f","r":37.6,"e":30.7},{"p":"f","r":45.6,"e":28.8},{"p":"f","r":65,"e":30.1},{"p":"f","r":70,"e":30.7},{"p":"f","r":71.2,"e":30.3},{"p":"f","r":80,"e":31.0},{"p":"f","r":89.2,"e":31.0},{"p":"f","r":94.2,"e":30.1},{"p":"f","r":76,"e":28.7},{"p":"f","r":86,"e":28.8},{"p":"f","r":87,"e":25.6},{"p":"f","r":32.6,"e":22.5},{"p":"f","r":60,"e":22.5},{"p":"f","r":74,"e":22.5},{"p":"f","r":114.4,"e":22.3},{"p":"f","r":128.4,"e":21.7},{"p":"f","r":87,"e":20.7},{"p":"f","r":116.4,"e":20.1},{"p":"f","r":80.4,"e":18.8},{"p":"f","r":92.2,"e":18.8},{"p":"f","r":101.2,"e":18.8},{"p":"f","r":64,"e":17.3},{"p":"f","r":117.4,"e":17.6},{"p":"f","r":86.2,"e":15.4},{"p":"f","r":94.2,"e":15.4},{"p":"f","r":105.2,"e":15.6},{"p":"f","r":51.6,"e":14.0},{"p":"f","r":54,"e":13.9},{"p":"f","r":97,"e":14.0},{"p":"f","r":64,"e":13.1},{"p":"f","r":48.8,"e":12.0},{"p":"f","r":89.2,"e":12.4},{"p":"f","r":94.2,"e":12.4},{"p":"f","r":99.2,"e":12.4},{"p":"f","r":105.2,"e":12.4},{"p":"f","r":114.4,"e":12.1},{"p":"f","r":119.4,"e":11.4},{"p":"f","r":128.6,"e":12.1},{"p":"f","r":138.4,"e":12.0},{"p":"f","r":140.4,"e":12.1},{"p":"f","r":143.4,"e":12.4},{"p":"f","r":143.4,"e":11.4},{"p":"f","r":53.8,"e":10.4},{"p":"f","r":67.8,"e":10.4},{"p":"f","r":82.2,"e":10.4},{"p":"f","r":103.4,"e":10.4},{"p":"f","r":107.2,"e":10.4},{"p":"f","r":107.4,"e":10.0},{"p":"f","r":117.4,"e":9.7},{"p":"f","r":124.4,"e":10.0},{"p":"f","r":56.8,"e":9.1},{"p":"f","r":54.8,"e":8.3},{"p":"f","r":83,"e":8.3},{"p":"f","r":86.2,"e":8.3},{"p":"f","r":89.2,"e":8.2},{"p":"f","r":96.2,"e":8.9},{"p":"f","r":104.2,"e":8.9},{"p":"f","r":106.2,"e":9.1},{"p":"f","r":110.2,"e":8.1},{"p":"f","r":115.4,"e":7.9},{"p":"f","r":119.4,"e":9.1},{"p":"f","r":129.4,"e":8.9},{"p":"f","r":130.4,"e":8.4},{"p":"f","r":134.4,"e":8.1},{"p":"f","r":142.4,"e":8.1},{"p":"f","r":145.4,"e":8.7},{"p":"f","r":32.6,"e":7.2},{"p":"f","r":45.8,"e":7.4},{"p":"f","r":45.8,"e":6.5},{"p":"f","r":69.8,"e":7.1},{"p":"f","r":80,"e":7.3},{"p":"f","r":82.2,"e":7.3},{"p":"f","r":101.2,"e":7.2},{"p":"f","r":53.8,"e":6.0},{"p":"f","r":64,"e":6.2},{"p":"f","r":82.6,"e":6.3},{"p":"f","r":89.2,"e":6.1},{"p":"f","r":92.2,"e":6.5},{"p":"f","r":95.2,"e":6.1},{"p":"f","r":103,"e":5.9},{"p":"f","r":106.4,"e":6.9},{"p":"f","r":109.2,"e":6.2},{"p":"f","r":114.4,"e":6.2},{"p":"f","r":118.4,"e":6.2},{"p":"f","r":121.4,"e":6.7},{"p":"f","r":123.4,"e":7.1},{"p":"f","r":126.4,"e":6.2},{"p":"f","r":128.4,"e":6.7},{"p":"f","r":129.4,"e":6.0},{"p":"f","r":131.4,"e":6.2},{"p":"f","r":133.4,"e":5.1},{"p":"f","r":135.4,"e":4.9},{"p":"f","r":137.4,"e":4.7},{"p":"f","r":139.4,"e":4.4},{"p":"f","r":140.4,"e":4.0},{"p":"f","r":141.4,"e":4.7},{"p":"f","r":143.4,"e":3.8},{"p":"f","r":144.4,"e":5.3},{"p":"f","r":145.8,"e":6.2},{"p":"f","r":147,"e":6.7},{"p":"f","r":148.4,"e":6.2},{"p":"f","r":150.2,"e":6.3},{"p":"f","r":150.2,"e":4.4},{"p":"f","r":148.4,"e":3.6},{"p":"f","r":146.4,"e":4.2},{"p":"f","r":147.4,"e":2.4},{"p":"f","r":149.4,"e":3.3},{"p":"f","r":150.2,"e":1.1},{"p":"f","r":149.4,"e":0.7},{"p":"f","r":143.4,"e":2.0},{"p":"f","r":141.4,"e":0.7},{"p":"f","r":140.4,"e":1.1},{"p":"f","r":140.4,"e":4.9},{"p":"f","r":139.4,"e":3.6},{"p":"f","r":138.4,"e":4.2},{"p":"f","r":136.4,"e":4.2},{"p":"f","r":134.4,"e":4.0},{"p":"f","r":132.4,"e":4.9},{"p":"f","r":129.4,"e":1.2},{"p":"f","r":125.4,"e":4.0},{"p":"f","r":123.4,"e":3.6},{"p":"f","r":122.4,"e":4.4},{"p":"f","r":121.4,"e":2.9},{"p":"f","r":120.4,"e":2.4},{"p":"f","r":118.4,"e":3.8},{"p":"f","r":117.4,"e":4.4},{"p":"f","r":115.4,"e":3.6},{"p":"f","r":112.4,"e":4.0},{"p":"f","r":110.4,"e":4.9},{"p":"f","r":107.4,"e":4.2},{"p":"f","r":106.4,"e":4.9},{"p":"f","r":103.4,"e":4.7},{"p":"f","r":101.4,"e":5.9},{"p":"f","r":8.6,"e":4.1},{"p":"f","r":12.6,"e":2.9},{"p":"f","r":12.6,"e":0.2},{"p":"f","r":19.8,"e":5.1},{"p":"f","r":23.6,"e":4.6},{"p":"f","r":27.6,"e":3.6},{"p":"f","r":27.6,"e":1.6},{"p":"f","r":28.6,"e":5.9},{"p":"f","r":29.6,"e":6.1},{"p":"f","r":33.6,"e":5.0},{"p":"f","r":35.6,"e":4.8},{"p":"f","r":37.6,"e":4.4},{"p":"f","r":42.8,"e":4.1},{"p":"f","r":46.8,"e":5.1},{"p":"f","r":52,"e":4.2},{"p":"f","r":63,"e":6.2},{"p":"f","r":67.8,"e":4.6},{"p":"f","r":71,"e":4.4}
]
},
"concat":[
{"width":253,"height":385,"resolve":{"axis":{"x":"independent","y":"independent"}},"layer":[
{"data":{"name":"pts"},"transform":[{"filter":"datum.p==='a'"}],"mark":{"type":"circle","size":26,"color":"#3f3f9a","opacity":1,"clip":false},"encoding":{"x":{"field":"r","type":"quantitative","scale":{"domain":[-0.6,151.2],"nice":false,"zero":false},"axis":{"orient":"bottom","values":[0,50,100,150],"tickSize":-10,"labelPadding":13,"labelOffset":7,"labelFlush":false,"labelOverlap":false,"labelFont":"Liberation Serif","labelFontSize":24,"title":null}},"y":{"field":"e","type":"quantitative","scale":{"domain":[0,51.33],"nice":false,"zero":false},"axis":{"orient":"left","values":[0,10,20,30,40,50],"tickSize":-10,"labelPadding":15,"labelFlush":false,"labelOverlap":false,"labelFont":"Liberation Serif","labelFontSize":24,"title":"E\u00a0\u00a0and\u00a0\u00a0P\u00a0\u00a0\u00a0\u00a0(mm h⁻¹\u00a0)","titleFont":"Liberation Serif","titleFontSize":24,"titleFontWeight":"normal","titlePadding":12}}}},
{"data":{"name":"stats"},"transform":[{"filter":"datum.p==='a'"}],"layer":[
{"mark":{"type":"rule","color":"#0000ff","strokeWidth":3,"clip":false},"encoding":{"x":{"field":"mx1","type":"quantitative","scale":{"domain":[-0.6,151.2],"nice":false,"zero":false},"axis":{"orient":"bottom","values":[10,20,30,40,60,70,80,90,110,120,130,140],"tickSize":-5,"labels":false,"domain":false,"title":null}},"x2":{"field":"mx2"},"y":{"field":"me","type":"quantitative","scale":{"domain":[0,51.33],"nice":false,"zero":false},"axis":{"orient":"left","values":[5,15,25,35,45],"tickSize":-5,"labels":false,"domain":false,"title":null}}}},
{"mark":{"type":"rule","color":"#0000ff","strokeWidth":3,"clip":false},"encoding":{"x":{"field":"mr","type":"quantitative","scale":{"domain":[-0.6,151.2],"nice":false,"zero":false},"axis":null},"y":{"field":"my1","type":"quantitative","scale":{"domain":[0,51.33],"nice":false,"zero":false},"axis":null},"y2":{"field":"my2"}}},
{"mark":{"type":"circle","size":100,"color":"#0000ff","opacity":1,"clip":false},"encoding":{"x":{"field":"mr","type":"quantitative","scale":{"domain":[-0.6,151.2],"nice":false,"zero":false},"axis":null},"y":{"field":"me","type":"quantitative","scale":{"domain":[0,51.33],"nice":false,"zero":false},"axis":null}}},
{"mark":{"type":"rule","color":"#ff0000","strokeWidth":2.5,"clip":false},"encoding":{"x":{"field":"qr","type":"quantitative","scale":{"domain":[-0.6,151.2],"nice":false,"zero":false},"axis":null},"y":{"field":"qy1","type":"quantitative","scale":{"domain":[0,51.33],"nice":false,"zero":false},"axis":null},"y2":{"field":"qy2"}}},
{"mark":{"type":"square","size":110,"color":"#ff0000","opacity":1,"clip":false},"encoding":{"x":{"field":"qr","type":"quantitative","scale":{"domain":[-0.6,151.2],"nice":false,"zero":false},"axis":null},"y":{"field":"qe","type":"quantitative","scale":{"domain":[0,51.33],"nice":false,"zero":false},"axis":null}}},
{"mark":{"type":"text","align":"left","baseline":"middle","fontSize":24,"font":"Liberation Serif","color":"#000","clip":false},"encoding":{"x":{"datum":4.8,"type":"quantitative","scale":{"domain":[-0.6,151.2],"nice":false,"zero":false},"axis":null},"y":{"datum":48.1,"type":"quantitative","scale":{"domain":[0,51.33],"nice":false,"zero":false},"axis":null},"text":{"field":"tag"}}},
{"mark":{"type":"text","align":"right","baseline":"middle","fontSize":24,"font":"Liberation Serif","color":"#000","clip":false},"encoding":{"x":{"datum":164.5,"type":"quantitative","scale":{"domain":[-0.6,151.2],"nice":false,"zero":false},"axis":null},"y":{"datum":47.6,"type":"quantitative","scale":{"domain":[0,51.33],"nice":false,"zero":false},"axis":null},"text":{"field":"storm"}}},
{"mark":{"type":"text","align":"right","baseline":"middle","fontSize":24,"font":"Liberation Serif","color":"#000","clip":false},"encoding":{"x":{"datum":164.5,"type":"quantitative","scale":{"domain":[-0.6,151.2],"nice":false,"zero":false},"axis":null},"y":{"datum":43.1,"type":"quantitative","scale":{"domain":[0,51.33],"nice":false,"zero":false},"axis":null},"text":{"field":"d1"}}},
{"mark":{"type":"text","align":"right","baseline":"middle","fontSize":24,"font":"Liberation Serif","color":"#000","clip":false},"encoding":{"x":{"datum":164.5,"type":"quantitative","scale":{"domain":[-0.6,151.2],"nice":false,"zero":false},"axis":null},"y":{"datum":38.5,"type":"quantitative","scale":{"domain":[0,51.33],"nice":false,"zero":false},"axis":null},"text":{"field":"d2"}}}
]}
]},
{"width":253,"height":385,"resolve":{"axis":{"x":"independent","y":"independent"}},"layer":[
{"data":{"name":"pts"},"transform":[{"filter":"datum.p==='b'"}],"mark":{"type":"circle","size":26,"color":"#3f3f9a","opacity":1,"clip":false},"encoding":{"x":{"field":"r","type":"quantitative","scale":{"domain":[-0.6,151.2],"nice":false,"zero":false},"axis":{"orient":"bottom","values":[0,50,100,150],"tickSize":-10,"labelPadding":13,"labelOffset":7,"labelFlush":false,"labelOverlap":false,"labelFont":"Liberation Serif","labelFontSize":24,"title":null}},"y":{"field":"e","type":"quantitative","scale":{"domain":[0,51.33],"nice":false,"zero":false},"axis":{"orient":"left","values":[0,10,20,30,40,50],"tickSize":-10,"labels":false,"title":null}}}},
{"data":{"name":"stats"},"transform":[{"filter":"datum.p==='b'"}],"layer":[
{"mark":{"type":"rule","color":"#0000ff","strokeWidth":3,"clip":false},"encoding":{"x":{"field":"mx1","type":"quantitative","scale":{"domain":[-0.6,151.2],"nice":false,"zero":false},"axis":{"orient":"bottom","values":[10,20,30,40,60,70,80,90,110,120,130,140],"tickSize":-5,"labels":false,"domain":false,"title":null}},"x2":{"field":"mx2"},"y":{"field":"me","type":"quantitative","scale":{"domain":[0,51.33],"nice":false,"zero":false},"axis":{"orient":"left","values":[5,15,25,35,45],"tickSize":-5,"labels":false,"domain":false,"title":null}}}},
{"mark":{"type":"rule","color":"#0000ff","strokeWidth":3,"clip":false},"encoding":{"x":{"field":"mr","type":"quantitative","scale":{"domain":[-0.6,151.2],"nice":false,"zero":false},"axis":null},"y":{"field":"my1","type":"quantitative","scale":{"domain":[0,51.33],"nice":false,"zero":false},"axis":null},"y2":{"field":"my2"}}},
{"mark":{"type":"circle","size":100,"color":"#0000ff","opacity":1,"clip":false},"encoding":{"x":{"field":"mr","type":"quantitative","scale":{"domain":[-0.6,151.2],"nice":false,"zero":false},"axis":null},"y":{"field":"me","type":"quantitative","scale":{"domain":[0,51.33],"nice":false,"zero":false},"axis":null}}},
{"mark":{"type":"rule","color":"#ff0000","strokeWidth":2.5,"clip":false},"encoding":{"x":{"field":"qr","type":"quantitative","scale":{"domain":[-0.6,151.2],"nice":false,"zero":false},"axis":null},"y":{"field":"qy1","type":"quantitative","scale":{"domain":[0,51.33],"nice":false,"zero":false},"axis":null},"y2":{"field":"qy2"}}},
{"mark":{"type":"square","size":110,"color":"#ff0000","opacity":1,"clip":false},"encoding":{"x":{"field":"qr","type":"quantitative","scale":{"domain":[-0.6,151.2],"nice":false,"zero":false},"axis":null},"y":{"field":"qe","type":"quantitative","scale":{"domain":[0,51.33],"nice":false,"zero":false},"axis":null}}},
{"mark":{"type":"text","align":"left","baseline":"middle","fontSize":24,"font":"Liberation Serif","color":"#000","clip":false},"encoding":{"x":{"datum":4.8,"type":"quantitative","scale":{"domain":[-0.6,151.2],"nice":false,"zero":false},"axis":null},"y":{"datum":48.1,"type":"quantitative","scale":{"domain":[0,51.33],"nice":false,"zero":false},"axis":null},"text":{"field":"tag"}}},
{"mark":{"type":"text","align":"right","baseline":"middle","fontSize":24,"font":"Liberation Serif","color":"#000","clip":false},"encoding":{"x":{"datum":164.5,"type":"quantitative","scale":{"domain":[-0.6,151.2],"nice":false,"zero":false},"axis":null},"y":{"datum":47.6,"type":"quantitative","scale":{"domain":[0,51.33],"nice":false,"zero":false},"axis":null},"text":{"field":"storm"}}},
{"mark":{"type":"text","align":"right","baseline":"middle","fontSize":24,"font":"Liberation Serif","color":"#000","clip":false},"encoding":{"x":{"datum":164.5,"type":"quantitative","scale":{"domain":[-0.6,151.2],"nice":false,"zero":false},"axis":null},"y":{"datum":43.1,"type":"quantitative","scale":{"domain":[0,51.33],"nice":false,"zero":false},"axis":null},"text":{"field":"d1"}}},
{"mark":{"type":"text","align":"right","baseline":"middle","fontSize":24,"font":"Liberation Serif","color":"#000","clip":false},"encoding":{"x":{"datum":164.5,"type":"quantitative","scale":{"domain":[-0.6,151.2],"nice":false,"zero":false},"axis":null},"y":{"datum":38.5,"type":"quantitative","scale":{"domain":[0,51.33],"nice":false,"zero":false},"axis":null},"text":{"field":"d2"}}}
]}
]},
{"width":253,"height":385,"resolve":{"axis":{"x":"independent","y":"independent"}},"layer":[
{"data":{"name":"pts"},"transform":[{"filter":"datum.p==='c'"}],"mark":{"type":"circle","size":26,"color":"#3f3f9a","opacity":1,"clip":false},"encoding":{"x":{"field":"r","type":"quantitative","scale":{"domain":[-0.6,151.2],"nice":false,"zero":false},"axis":{"orient":"bottom","values":[0,50,100,150],"tickSize":-10,"labelPadding":13,"labelOffset":7,"labelFlush":false,"labelOverlap":false,"labelFont":"Liberation Serif","labelFontSize":24,"title":null}},"y":{"field":"e","type":"quantitative","scale":{"domain":[0,51.33],"nice":false,"zero":false},"axis":{"orient":"left","values":[0,10,20,30,40,50],"tickSize":-10,"labels":false,"title":null}}}},
{"data":{"name":"stats"},"transform":[{"filter":"datum.p==='c'"}],"layer":[
{"mark":{"type":"rule","color":"#0000ff","strokeWidth":3,"clip":false},"encoding":{"x":{"field":"mx1","type":"quantitative","scale":{"domain":[-0.6,151.2],"nice":false,"zero":false},"axis":{"orient":"bottom","values":[10,20,30,40,60,70,80,90,110,120,130,140],"tickSize":-5,"labels":false,"domain":false,"title":null}},"x2":{"field":"mx2"},"y":{"field":"me","type":"quantitative","scale":{"domain":[0,51.33],"nice":false,"zero":false},"axis":{"orient":"left","values":[5,15,25,35,45],"tickSize":-5,"labels":false,"domain":false,"title":null}}}},
{"mark":{"type":"rule","color":"#0000ff","strokeWidth":3,"clip":false},"encoding":{"x":{"field":"mr","type":"quantitative","scale":{"domain":[-0.6,151.2],"nice":false,"zero":false},"axis":null},"y":{"field":"my1","type":"quantitative","scale":{"domain":[0,51.33],"nice":false,"zero":false},"axis":null},"y2":{"field":"my2"}}},
{"mark":{"type":"circle","size":100,"color":"#0000ff","opacity":1,"clip":false},"encoding":{"x":{"field":"mr","type":"quantitative","scale":{"domain":[-0.6,151.2],"nice":false,"zero":false},"axis":null},"y":{"field":"me","type":"quantitative","scale":{"domain":[0,51.33],"nice":false,"zero":false},"axis":null}}},
{"mark":{"type":"rule","color":"#ff0000","strokeWidth":2.5,"clip":false},"encoding":{"x":{"field":"qr","type":"quantitative","scale":{"domain":[-0.6,151.2],"nice":false,"zero":false},"axis":null},"y":{"field":"qy1","type":"quantitative","scale":{"domain":[0,51.33],"nice":false,"zero":false},"axis":null},"y2":{"field":"qy2"}}},
{"mark":{"type":"square","size":110,"color":"#ff0000","opacity":1,"clip":false},"encoding":{"x":{"field":"qr","type":"quantitative","scale":{"domain":[-0.6,151.2],"nice":false,"zero":false},"axis":null},"y":{"field":"qe","type":"quantitative","scale":{"domain":[0,51.33],"nice":false,"zero":false},"axis":null}}},
{"mark":{"type":"text","align":"left","baseline":"middle","fontSize":24,"font":"Liberation Serif","color":"#000","clip":false},"encoding":{"x":{"datum":4.8,"type":"quantitative","scale":{"domain":[-0.6,151.2],"nice":false,"zero":false},"axis":null},"y":{"datum":48.1,"type":"quantitative","scale":{"domain":[0,51.33],"nice":false,"zero":false},"axis":null},"text":{"field":"tag"}}},
{"mark":{"type":"text","align":"right","baseline":"middle","fontSize":24,"font":"Liberation Serif","color":"#000","clip":false},"encoding":{"x":{"datum":164.5,"type":"quantitative","scale":{"domain":[-0.6,151.2],"nice":false,"zero":false},"axis":null},"y":{"datum":47.6,"type":"quantitative","scale":{"domain":[0,51.33],"nice":false,"zero":false},"axis":null},"text":{"field":"storm"}}},
{"mark":{"type":"text","align":"right","baseline":"middle","fontSize":24,"font":"Liberation Serif","color":"#000","clip":false},"encoding":{"x":{"datum":164.5,"type":"quantitative","scale":{"domain":[-0.6,151.2],"nice":false,"zero":false},"axis":null},"y":{"datum":43.1,"type":"quantitative","scale":{"domain":[0,51.33],"nice":false,"zero":false},"axis":null},"text":{"field":"d1"}}},
{"mark":{"type":"text","align":"right","baseline":"middle","fontSize":24,"font":"Liberation Serif","color":"#000","clip":false},"encoding":{"x":{"datum":164.5,"type":"quantitative","scale":{"domain":[-0.6,151.2],"nice":false,"zero":false},"axis":null},"y":{"datum":38.5,"type":"quantitative","scale":{"domain":[0,51.33],"nice":false,"zero":false},"axis":null},"text":{"field":"d2"}}}
]}
]},
{"width":253,"height":385,"resolve":{"axis":{"x":"independent","y":"independent"}},"layer":[
{"data":{"name":"pts"},"transform":[{"filter":"datum.p==='d'"}],"mark":{"type":"circle","size":26,"color":"#3f3f9a","opacity":1,"clip":false},"encoding":{"x":{"field":"r","type":"quantitative","scale":{"domain":[-0.6,151.2],"nice":false,"zero":false},"axis":{"orient":"bottom","values":[0,50,100,150],"tickSize":-10,"labelPadding":13,"labelOffset":7,"labelFlush":false,"labelOverlap":false,"labelFont":"Liberation Serif","labelFontSize":24,"title":"r (km)","titleFont":"Liberation Serif","titleFontSize":24,"titleFontWeight":"normal","titlePadding":1}},"y":{"field":"e","type":"quantitative","scale":{"domain":[0,51.33],"nice":false,"zero":false},"axis":{"orient":"left","values":[0,10,20,30,40,50],"tickSize":-10,"labelPadding":15,"labelFlush":false,"labelOverlap":false,"labelFont":"Liberation Serif","labelFontSize":24,"title":"E\u00a0\u00a0and\u00a0\u00a0P\u00a0\u00a0\u00a0\u00a0(mm h⁻¹\u00a0)","titleFont":"Liberation Serif","titleFontSize":24,"titleFontWeight":"normal","titlePadding":12}}}},
{"data":{"name":"stats"},"transform":[{"filter":"datum.p==='d'"}],"layer":[
{"mark":{"type":"rule","color":"#0000ff","strokeWidth":3,"clip":false},"encoding":{"x":{"field":"mx1","type":"quantitative","scale":{"domain":[-0.6,151.2],"nice":false,"zero":false},"axis":{"orient":"bottom","values":[10,20,30,40,60,70,80,90,110,120,130,140],"tickSize":-5,"labels":false,"domain":false,"title":null}},"x2":{"field":"mx2"},"y":{"field":"me","type":"quantitative","scale":{"domain":[0,51.33],"nice":false,"zero":false},"axis":{"orient":"left","values":[5,15,25,35,45],"tickSize":-5,"labels":false,"domain":false,"title":null}}}},
{"mark":{"type":"rule","color":"#0000ff","strokeWidth":3,"clip":false},"encoding":{"x":{"field":"mr","type":"quantitative","scale":{"domain":[-0.6,151.2],"nice":false,"zero":false},"axis":null},"y":{"field":"my1","type":"quantitative","scale":{"domain":[0,51.33],"nice":false,"zero":false},"axis":null},"y2":{"field":"my2"}}},
{"mark":{"type":"circle","size":100,"color":"#0000ff","opacity":1,"clip":false},"encoding":{"x":{"field":"mr","type":"quantitative","scale":{"domain":[-0.6,151.2],"nice":false,"zero":false},"axis":null},"y":{"field":"me","type":"quantitative","scale":{"domain":[0,51.33],"nice":false,"zero":false},"axis":null}}},
{"mark":{"type":"rule","color":"#ff0000","strokeWidth":2.5,"clip":false},"encoding":{"x":{"field":"qr","type":"quantitative","scale":{"domain":[-0.6,151.2],"nice":false,"zero":false},"axis":null},"y":{"field":"qy1","type":"quantitative","scale":{"domain":[0,51.33],"nice":false,"zero":false},"axis":null},"y2":{"field":"qy2"}}},
{"mark":{"type":"square","size":110,"color":"#ff0000","opacity":1,"clip":false},"encoding":{"x":{"field":"qr","type":"quantitative","scale":{"domain":[-0.6,151.2],"nice":false,"zero":false},"axis":null},"y":{"field":"qe","type":"quantitative","scale":{"domain":[0,51.33],"nice":false,"zero":false},"axis":null}}},
{"mark":{"type":"text","align":"left","baseline":"middle","fontSize":24,"font":"Liberation Serif","color":"#000","clip":false},"encoding":{"x":{"datum":4.8,"type":"quantitative","scale":{"domain":[-0.6,151.2],"nice":false,"zero":false},"axis":null},"y":{"datum":48.1,"type":"quantitative","scale":{"domain":[0,51.33],"nice":false,"zero":false},"axis":null},"text":{"field":"tag"}}},
{"mark":{"type":"text","align":"right","baseline":"middle","fontSize":24,"font":"Liberation Serif","color":"#000","clip":false},"encoding":{"x":{"datum":164.5,"type":"quantitative","scale":{"domain":[-0.6,151.2],"nice":false,"zero":false},"axis":null},"y":{"datum":47.6,"type":"quantitative","scale":{"domain":[0,51.33],"nice":false,"zero":false},"axis":null},"text":{"field":"storm"}}},
{"mark":{"type":"text","align":"right","baseline":"middle","fontSize":24,"font":"Liberation Serif","color":"#000","clip":false},"encoding":{"x":{"datum":164.5,"type":"quantitative","scale":{"domain":[-0.6,151.2],"nice":false,"zero":false},"axis":null},"y":{"datum":43.1,"type":"quantitative","scale":{"domain":[0,51.33],"nice":false,"zero":false},"axis":null},"text":{"field":"d1"}}},
{"mark":{"type":"text","align":"right","baseline":"middle","fontSize":24,"font":"Liberation Serif","color":"#000","clip":false},"encoding":{"x":{"datum":164.5,"type":"quantitative","scale":{"domain":[-0.6,151.2],"nice":false,"zero":false},"axis":null},"y":{"datum":38.5,"type":"quantitative","scale":{"domain":[0,51.33],"nice":false,"zero":false},"axis":null},"text":{"field":"d2"}}}
]}
]},
{"width":253,"height":385,"resolve":{"axis":{"x":"independent","y":"independent"}},"layer":[
{"data":{"name":"pts"},"transform":[{"filter":"datum.p==='e'"}],"mark":{"type":"circle","size":26,"color":"#3f3f9a","opacity":1,"clip":false},"encoding":{"x":{"field":"r","type":"quantitative","scale":{"domain":[-0.6,151.2],"nice":false,"zero":false},"axis":{"orient":"bottom","values":[0,50,100,150],"tickSize":-10,"labelPadding":13,"labelOffset":7,"labelFlush":false,"labelOverlap":false,"labelFont":"Liberation Serif","labelFontSize":24,"title":"r (km)","titleFont":"Liberation Serif","titleFontSize":24,"titleFontWeight":"normal","titlePadding":1}},"y":{"field":"e","type":"quantitative","scale":{"domain":[0,51.33],"nice":false,"zero":false},"axis":{"orient":"left","values":[0,10,20,30,40,50],"tickSize":-10,"labels":false,"title":null}}}},
{"data":{"name":"stats"},"transform":[{"filter":"datum.p==='e'"}],"layer":[
{"mark":{"type":"rule","color":"#0000ff","strokeWidth":3,"clip":false},"encoding":{"x":{"field":"mx1","type":"quantitative","scale":{"domain":[-0.6,151.2],"nice":false,"zero":false},"axis":{"orient":"bottom","values":[10,20,30,40,60,70,80,90,110,120,130,140],"tickSize":-5,"labels":false,"domain":false,"title":null}},"x2":{"field":"mx2"},"y":{"field":"me","type":"quantitative","scale":{"domain":[0,51.33],"nice":false,"zero":false},"axis":{"orient":"left","values":[5,15,25,35,45],"tickSize":-5,"labels":false,"domain":false,"title":null}}}},
{"mark":{"type":"rule","color":"#0000ff","strokeWidth":3,"clip":false},"encoding":{"x":{"field":"mr","type":"quantitative","scale":{"domain":[-0.6,151.2],"nice":false,"zero":false},"axis":null},"y":{"field":"my1","type":"quantitative","scale":{"domain":[0,51.33],"nice":false,"zero":false},"axis":null},"y2":{"field":"my2"}}},
{"mark":{"type":"circle","size":100,"color":"#0000ff","opacity":1,"clip":false},"encoding":{"x":{"field":"mr","type":"quantitative","scale":{"domain":[-0.6,151.2],"nice":false,"zero":false},"axis":null},"y":{"field":"me","type":"quantitative","scale":{"domain":[0,51.33],"nice":false,"zero":false},"axis":null}}},
{"mark":{"type":"rule","color":"#ff0000","strokeWidth":2.5,"clip":false},"encoding":{"x":{"field":"qr","type":"quantitative","scale":{"domain":[-0.6,151.2],"nice":false,"zero":false},"axis":null},"y":{"field":"qy1","type":"quantitative","scale":{"domain":[0,51.33],"nice":false,"zero":false},"axis":null},"y2":{"field":"qy2"}}},
{"mark":{"type":"square","size":110,"color":"#ff0000","opacity":1,"clip":false},"encoding":{"x":{"field":"qr","type":"quantitative","scale":{"domain":[-0.6,151.2],"nice":false,"zero":false},"axis":null},"y":{"field":"qe","type":"quantitative","scale":{"domain":[0,51.33],"nice":false,"zero":false},"axis":null}}},
{"mark":{"type":"text","align":"left","baseline":"middle","fontSize":24,"font":"Liberation Serif","color":"#000","clip":false},"encoding":{"x":{"datum":4.8,"type":"quantitative","scale":{"domain":[-0.6,151.2],"nice":false,"zero":false},"axis":null},"y":{"datum":48.1,"type":"quantitative","scale":{"domain":[0,51.33],"nice":false,"zero":false},"axis":null},"text":{"field":"tag"}}},
{"mark":{"type":"text","align":"right","baseline":"middle","fontSize":24,"font":"Liberation Serif","color":"#000","clip":false},"encoding":{"x":{"datum":164.5,"type":"quantitative","scale":{"domain":[-0.6,151.2],"nice":false,"zero":false},"axis":null},"y":{"datum":47.6,"type":"quantitative","scale":{"domain":[0,51.33],"nice":false,"zero":false},"axis":null},"text":{"field":"storm"}}},
{"mark":{"type":"text","align":"right","baseline":"middle","fontSize":24,"font":"Liberation Serif","color":"#000","clip":false},"encoding":{"x":{"datum":164.5,"type":"quantitative","scale":{"domain":[-0.6,151.2],"nice":false,"zero":false},"axis":null},"y":{"datum":43.1,"type":"quantitative","scale":{"domain":[0,51.33],"nice":false,"zero":false},"axis":null},"text":{"field":"d1"}}},
{"mark":{"type":"text","align":"right","baseline":"middle","fontSize":24,"font":"Liberation Serif","color":"#000","clip":false},"encoding":{"x":{"datum":164.5,"type":"quantitative","scale":{"domain":[-0.6,151.2],"nice":false,"zero":false},"axis":null},"y":{"datum":38.5,"type":"quantitative","scale":{"domain":[0,51.33],"nice":false,"zero":false},"axis":null},"text":{"field":"d2"}}}
]}
]},
{"width":253,"height":385,"resolve":{"axis":{"x":"independent","y":"independent"}},"layer":[
{"data":{"name":"pts"},"transform":[{"filter":"datum.p==='f'"}],"mark":{"type":"circle","size":26,"color":"#3f3f9a","opacity":1,"clip":false},"encoding":{"x":{"field":"r","type":"quantitative","scale":{"domain":[-0.6,151.2],"nice":false,"zero":false},"axis":{"orient":"bottom","values":[0,50,100,150],"tickSize":-10,"labelPadding":13,"labelOffset":7,"labelFlush":false,"labelOverlap":false,"labelFont":"Liberation Serif","labelFontSize":24,"title":"r (km)","titleFont":"Liberation Serif","titleFontSize":24,"titleFontWeight":"normal","titlePadding":1}},"y":{"field":"e","type":"quantitative","scale":{"domain":[0,51.33],"nice":false,"zero":false},"axis":{"orient":"left","values":[0,10,20,30,40,50],"tickSize":-10,"labels":false,"title":null}}}},
{"data":{"name":"stats"},"transform":[{"filter":"datum.p==='f'"}],"layer":[
{"mark":{"type":"rule","color":"#0000ff","strokeWidth":3,"clip":false},"encoding":{"x":{"field":"mx1","type":"quantitative","scale":{"domain":[-0.6,151.2],"nice":false,"zero":false},"axis":{"orient":"bottom","values":[10,20,30,40,60,70,80,90,110,120,130,140],"tickSize":-5,"labels":false,"domain":false,"title":null}},"x2":{"field":"mx2"},"y":{"field":"me","type":"quantitative","scale":{"domain":[0,51.33],"nice":false,"zero":false},"axis":{"orient":"left","values":[5,15,25,35,45],"tickSize":-5,"labels":false,"domain":false,"title":null}}}},
{"mark":{"type":"rule","color":"#0000ff","strokeWidth":3,"clip":false},"encoding":{"x":{"field":"mr","type":"quantitative","scale":{"domain":[-0.6,151.2],"nice":false,"zero":false},"axis":null},"y":{"field":"my1","type":"quantitative","scale":{"domain":[0,51.33],"nice":false,"zero":false},"axis":null},"y2":{"field":"my2"}}},
{"mark":{"type":"circle","size":100,"color":"#0000ff","opacity":1,"clip":false},"encoding":{"x":{"field":"mr","type":"quantitative","scale":{"domain":[-0.6,151.2],"nice":false,"zero":false},"axis":null},"y":{"field":"me","type":"quantitative","scale":{"domain":[0,51.33],"nice":false,"zero":false},"axis":null}}},
{"mark":{"type":"rule","color":"#ff0000","strokeWidth":2.5,"clip":false},"encoding":{"x":{"field":"qr","type":"quantitative","scale":{"domain":[-0.6,151.2],"nice":false,"zero":false},"axis":null},"y":{"field":"qy1","type":"quantitative","scale":{"domain":[0,51.33],"nice":false,"zero":false},"axis":null},"y2":{"field":"qy2"}}},
{"mark":{"type":"square","size":110,"color":"#ff0000","opacity":1,"clip":false},"encoding":{"x":{"field":"qr","type":"quantitative","scale":{"domain":[-0.6,151.2],"nice":false,"zero":false},"axis":null},"y":{"field":"qe","type":"quantitative","scale":{"domain":[0,51.33],"nice":false,"zero":false},"axis":null}}},
{"mark":{"type":"text","align":"left","baseline":"middle","fontSize":24,"font":"Liberation Serif","color":"#000","clip":false},"encoding":{"x":{"datum":4.8,"type":"quantitative","scale":{"domain":[-0.6,151.2],"nice":false,"zero":false},"axis":null},"y":{"datum":48.1,"type":"quantitative","scale":{"domain":[0,51.33],"nice":false,"zero":false},"axis":null},"text":{"field":"tag"}}},
{"mark":{"type":"text","align":"right","baseline":"middle","fontSize":24,"font":"Liberation Serif","color":"#000","clip":false},"encoding":{"x":{"datum":164.5,"type":"quantitative","scale":{"domain":[-0.6,151.2],"nice":false,"zero":false},"axis":null},"y":{"datum":47.6,"type":"quantitative","scale":{"domain":[0,51.33],"nice":false,"zero":false},"axis":null},"text":{"field":"storm"}}},
{"mark":{"type":"text","align":"right","baseline":"middle","fontSize":24,"font":"Liberation Serif","color":"#000","clip":false},"encoding":{"x":{"datum":164.5,"type":"quantitative","scale":{"domain":[-0.6,151.2],"nice":false,"zero":false},"axis":null},"y":{"datum":43.1,"type":"quantitative","scale":{"domain":[0,51.33],"nice":false,"zero":false},"axis":null},"text":{"field":"d1"}}},
{"mark":{"type":"text","align":"right","baseline":"middle","fontSize":24,"font":"Liberation Serif","color":"#000","clip":false},"encoding":{"x":{"datum":164.5,"type":"quantitative","scale":{"domain":[-0.6,151.2],"nice":false,"zero":false},"axis":null},"y":{"datum":38.5,"type":"quantitative","scale":{"domain":[0,51.33],"nice":false,"zero":false},"axis":null},"text":{"field":"d2"}}}
]}
]}
],
"config":{
"view":{"stroke":null},
"font":"Liberation Serif",
"style":{"guide-label":{"font":"Liberation Serif"},"guide-title":{"font":"Liberation Serif"}},
"axis":{"domainColor":"#000","domainWidth":1.6,"tickColor":"#000","tickWidth":1.4,"grid":false,"labelFont":"Liberation Serif","labelFontSize":24,"labelColor":"#000","titleFont":"Liberation Serif","titleFontSize":24,"titleFontWeight":"normal","titleColor":"#000"}
}
}
